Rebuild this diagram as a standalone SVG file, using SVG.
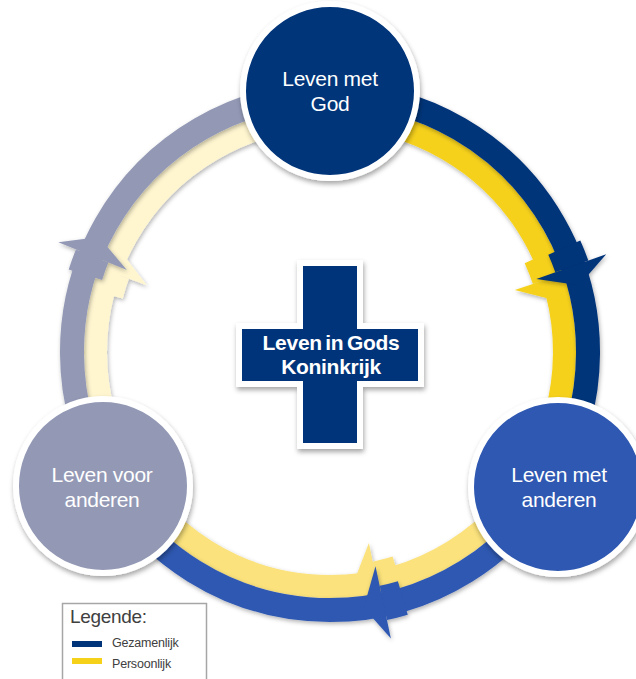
<svg xmlns="http://www.w3.org/2000/svg" width="636" height="679" viewBox="0 0 636 679">
<defs>
<filter id="sh" x="-20%" y="-20%" width="140%" height="140%">
<feDropShadow dx="1" dy="3" stdDeviation="2.5" flood-color="#000" flood-opacity="0.35"/>
</filter>
<filter id="shs" x="-20%" y="-20%" width="140%" height="140%">
<feDropShadow dx="1" dy="2" stdDeviation="2" flood-color="#000" flood-opacity="0.3"/>
</filter>
</defs>
<style>
.dk{fill:none;stroke-width:24}
.lt{fill:none;stroke-width:23}
.node{stroke:#fff;stroke-width:6}
.lbl{font-family:"Liberation Sans",Arial,sans-serif;font-size:21px;fill:#fff;text-anchor:middle;letter-spacing:-0.3px}
.ctr{font-family:"Liberation Sans",Arial,sans-serif;font-size:21px;font-weight:bold;fill:#fff;text-anchor:middle;word-spacing:-2px;letter-spacing:-0.3px}
.leg{font-family:"Liberation Sans",Arial,sans-serif;fill:#404040}
</style>
<rect width="636" height="679" fill="#fff"/>
<g id="connectors">
<!-- Segment A: God -> met anderen -->
<g id="seg-a">
<g filter="url(#shs)" fill="#F6D11A">
<path class="lt" stroke="#F6D11A" d="M330,117.5 A234.5,234.5 0 0 1 531.8,471.4"/>
<path d="M557.5,248.3 A250,250 0 0 1 567.1,272.7 L532.9,284.1 A214,214 0 0 0 524.7,263.3 Z"/>
<path d="M586,266.3 L558.9,301.3 L514.9,290.1 Z"/>
</g>
<g filter="url(#shs)" fill="#00347A">
<path class="dk" stroke="#00347A" d="M330,94 A258,258 0 0 1 552.1,483.3"/>
<path d="M580.3,240.6 A274,274 0 0 1 588.3,260.5 L555.3,272.2 A239,239 0 0 0 548.3,254.8 Z"/>
<path d="M606.2,254.2 L579.2,285.2 L536.4,278.9 Z"/>
</g>
</g>
<!-- Segment B: met anderen -> voor anderen -->
<g id="seg-b">
<g filter="url(#shs)" fill="#FBE27B">
<path class="lt" stroke="#FBE27B" d="M531.8,471.4 A234.5,234.5 0 0 1 128.2,471.4"/>
<path d="M403.1,591.1 A250,250 0 0 1 379.9,597 L372.7,561.7 A214,214 0 0 0 392.6,556.6 Z"/>
<path d="M383.8,616.6 L352.5,585.4 L368.9,543.1 Z"/>
</g>
<g filter="url(#shs)" fill="#2F58B1">
<path class="dk" stroke="#2F58B1" d="M552.1,483.3 A258,258 0 0 1 107.9,483.3"/>
<path d="M407.8,614.7 A274,274 0 0 1 387,620 L379.7,585.8 A239,239 0 0 0 397.9,581.2 Z"/>
<path d="M390.9,638.6 L363.7,607.8 L375.5,566.2 Z"/>
</g>
</g>
<!-- Segment C: voor anderen -> God -->
<g id="seg-c">
<g filter="url(#shs)" fill="#FFF6D0">
<path class="lt" stroke="#FFF6D0" d="M128.2,471.4 A234.5,234.5 0 0 1 330,117.5"/>
<path d="M88,289.4 A250,250 0 0 1 95.1,266.5 L128.9,278.8 A214,214 0 0 0 122.8,298.4 Z"/>
<path d="M76.3,259.7 L119.2,249.2 L146.8,285.3 Z"/>
</g>
<g filter="url(#shs)" fill="#9399B5">
<path class="dk" stroke="#9399B5" d="M107.9,483.3 A258,258 0 0 1 330,94"/>
<path d="M68.7,269.6 A274,274 0 0 1 75.9,249.4 L108.4,262.5 A239,239 0 0 0 102.1,280.1 Z"/>
<path d="M58.3,242.2 L99.1,236.9 L126.9,270 Z"/>
</g>
</g>
</g>
<g id="node-god">
<circle class="node" cx="330" cy="91" r="87" fill="#00347A" filter="url(#sh)"/>
<text class="lbl" x="330" y="86">Leven met</text>
<text class="lbl" x="330" y="111">God</text>
</g>
<g id="node-met-anderen">
<circle class="node" cx="558" cy="487" r="87" fill="#2F58B1" filter="url(#sh)"/>
<text class="lbl" x="559" y="482">Leven met</text>
<text class="lbl" x="559" y="507">anderen</text>
</g>
<g id="node-voor-anderen">
<circle class="node" cx="103" cy="486" r="87" fill="#9399B5" filter="url(#sh)"/>
<text class="lbl" x="102" y="482">Leven voor</text>
<text class="lbl" x="102" y="507">anderen</text>
</g>
<g id="node-center">
<path d="M297,260 H363 V323 H424 V387 H363 V449 H297 V387 H236 V323 H297 Z" fill="#fff" filter="url(#sh)"/>
<path d="M303,266 H357 V329 H418 V381 H357 V443 H303 V381 H242 V329 H303 Z" fill="#00347A"/>
<text class="ctr" x="331" y="350">Leven in Gods</text>
<text class="ctr" x="331" y="374">Koninkrijk</text>
</g>
<g id="legend">
<rect x="62.5" y="603.5" width="144" height="90" fill="#fff" stroke="#A6A6A6" stroke-width="1.5"/>
<text class="leg" x="70" y="623" font-size="19" letter-spacing="-0.3">Legende:</text>
<rect x="72" y="641" width="30" height="6" fill="#00347A"/>
<rect x="72" y="658" width="30" height="6" fill="#F6D11A"/>
<text class="leg" x="112" y="647" font-size="12.5" letter-spacing="-0.2">Gezamenlijk</text>
<text class="leg" x="112" y="668" font-size="12.5" letter-spacing="-0.2">Persoonlijk</text>
</g>
</svg>
